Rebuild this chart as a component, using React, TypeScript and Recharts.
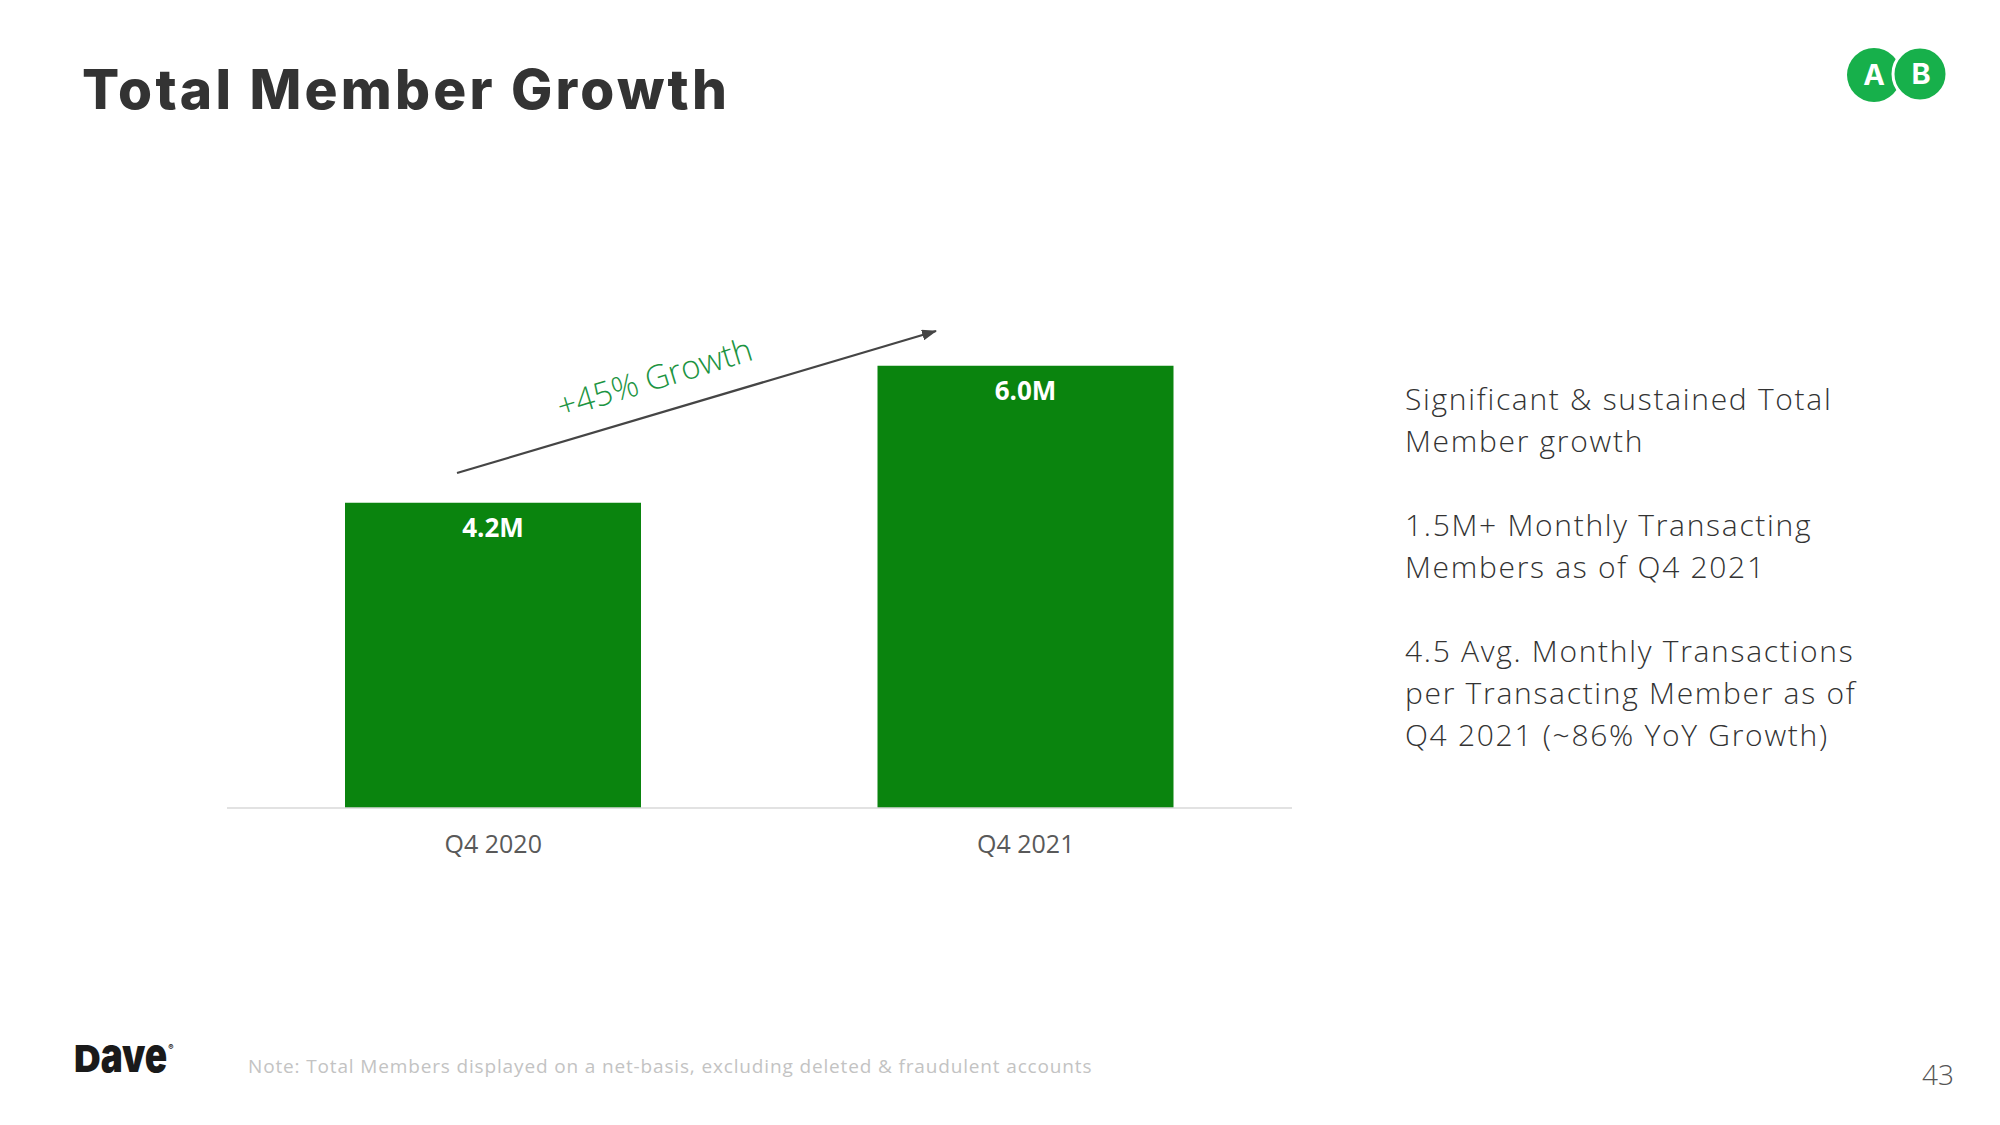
import { BarChart, Bar, XAxis, YAxis, LabelList } from "recharts";

const quarters = ["Q4 2020", "Q4 2021"];
const members = [4.14, 6.0];
const memberLabels = ["4.2M", "6.0M"];

const bullets = [
  ["Significant & sustained Total", "Member growth"],
  ["1.5M+ Monthly Transacting", "Members as of Q4 2021"],
  ["4.5 Avg. Monthly Transactions", "per Transacting Member as of", "Q4 2021 (~86% YoY Growth)"],
];

const data = quarters.map((q, i) => ({ quarter: q, value: members[i], label: memberLabels[i] }));

const sans = "'Open Sans', 'Noto Sans', sans-serif";

export default function App() {
  return (
    <div
      style={{
        position: "absolute",
        left: 0,
        top: 0,
        width: 2000,
        height: 1125,
        background: "#fff",
        overflow: "hidden",
        fontFamily: sans,
      }}
    >
      <div
        style={{
          position: "absolute",
          left: 82,
          top: 56,
          fontFamily: "Inter, sans-serif",
          fontWeight: 800,
          fontSize: 55,
          color: "#333333",
          letterSpacing: 3.2,
        }}
      >
        Total Member Growth
      </div>

      {/* AB badge */}
      <svg style={{ position: "absolute", left: 1837, top: 40 }} width={130} height={70}>
        <circle cx={37} cy={35} r={27} fill="#17b04b" />
        <circle cx={83} cy={34} r={27} fill="#17b04b" stroke="#fff" strokeWidth={3} />
        <text x={37} y={45} textAnchor="middle" fill="#fff" fontFamily="Inter" fontWeight={700} fontSize={29}>
          A
        </text>
        <text x={84} y={44} textAnchor="middle" fill="#fff" fontFamily="Inter" fontWeight={700} fontSize={29}>
          B
        </text>
      </svg>

      <div style={{ position: "absolute", left: 0, top: 0 }}>
        <BarChart
          width={1400}
          height={900}
          data={data}
          margin={{ top: 292, left: 227, right: 108, bottom: 32 }}
        >
          <XAxis
            dataKey="quarter"
            height={60}
            tickLine={false}
            axisLine={{ stroke: "#d9d9d9", strokeWidth: 1.5 }}
            tickMargin={21}
            tick={{ fill: "#595959", fontSize: 25, fontFamily: sans }}
          />
          <YAxis hide domain={[0, 7]} />
          <Bar dataKey="value" fill="#0a840e" barSize={296} isAnimationActive={false}>
            <LabelList
              dataKey="label"
              position="insideTop"
              offset={16}
              fill="#ffffff"
              fontSize={26}
              fontWeight={700}
              fontFamily={sans}
            />
          </Bar>
        </BarChart>
      </div>

      {/* growth arrow annotation */}
      <svg style={{ position: "absolute", left: 0, top: 0 }} width={1400} height={900}>
        <defs>
          <marker id="arrowHead" markerWidth="15" markerHeight="11" refX="14" refY="5.5" orient="auto" markerUnits="userSpaceOnUse">
            <path d="M0,0 L15,5.5 L0,11 Z" fill="#454545" />
          </marker>
        </defs>
        <line x1={457} y1={473} x2={936} y2={331} stroke="#454545" strokeWidth={2.2} markerEnd="url(#arrowHead)" />
        <text
          x={0}
          y={0}
          transform="translate(658,389) rotate(-17)"
          textAnchor="middle"
          fill="#1c9442"
          fontFamily={sans}
          fontWeight={300}
          fontSize={33}
        >
          +45% Growth
        </text>
      </svg>

      <div
        style={{
          position: "absolute",
          left: 1405,
          top: 378,
          color: "#333333",
          fontSize: 30,
          fontWeight: 300,
          lineHeight: "42px",
          letterSpacing: 1.7,
        }}
      >
        {bullets.map((b, i) => (
          <div key={i} style={{ marginBottom: 42 }}>
            {b.map((line, j) => (
              <div key={j} style={{ whiteSpace: "nowrap" }}>{line}</div>
            ))}
          </div>
        ))}
      </div>

      <div
        style={{
          position: "absolute",
          left: 74,
          top: 1036,
          fontFamily: "Inter, sans-serif",
          fontWeight: 900,
          fontSize: 37,
          color: "#1a1a1a",
          letterSpacing: 0,
        }}
      >
        D
        <span style={{ display: "inline-block", transform: "scaleY(1.3)", transformOrigin: "50% 78%" }}>ave</span>
        <span style={{ fontSize: 8, position: "relative", top: -22, marginLeft: 1 }}>®</span>
      </div>
      <div style={{ position: "absolute", left: 248, top: 1053, fontSize: 19, color: "#c3c3c3", fontWeight: 400, letterSpacing: 0.85, whiteSpace: "nowrap" }}>
        Note: Total Members displayed on a net-basis, excluding deleted &amp; fraudulent accounts
      </div>
      <div style={{ position: "absolute", left: 1922, top: 1055, fontSize: 28, color: "#555", fontWeight: 300 }}>43</div>
    </div>
  );
}
